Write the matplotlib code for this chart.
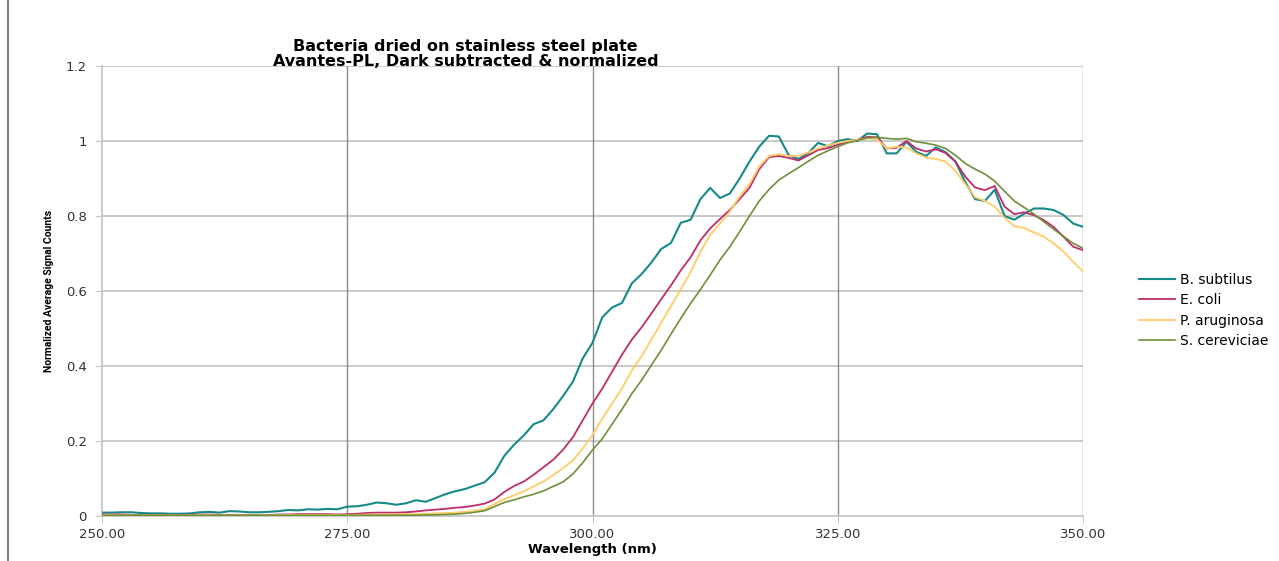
#! usr/bin/env python3

#	import other modules
import numpy as np
import matplotlib
matplotlib.use("Agg")
import matplotlib.pyplot as plt
from matplotlib.lines import Line2D

#	wavelength grid, 1 nm steps
wavelength = list(range(250, 351))

b_subtilus = [
    0.009, 0.009, 0.010, 0.010, 0.008, 0.007, 0.007, 0.006, 0.006, 0.007,
    0.010, 0.011, 0.009, 0.013, 0.012, 0.010, 0.010, 0.011, 0.013, 0.016,
    0.015, 0.018, 0.017, 0.019, 0.018, 0.025, 0.026, 0.030, 0.036, 0.034,
    0.030, 0.034, 0.042, 0.038, 0.048, 0.058, 0.066, 0.072, 0.081, 0.090,
    0.115, 0.160, 0.190, 0.215, 0.245, 0.255, 0.285, 0.320, 0.358, 0.420,
    0.462, 0.530, 0.556, 0.568, 0.620, 0.645, 0.676, 0.712, 0.728, 0.782,
    0.790, 0.845, 0.875, 0.848, 0.860, 0.900, 0.945, 0.985, 1.014, 1.012,
    0.962, 0.952, 0.968, 0.995, 0.986, 1.000, 1.005, 1.000, 1.020, 1.018,
    0.967, 0.967, 0.998, 0.971, 0.960, 0.983, 0.970, 0.945, 0.890, 0.845,
    0.840, 0.870, 0.800, 0.790, 0.806, 0.820, 0.820, 0.816, 0.803, 0.780,
    0.771]

e_coli = [
    0.004, 0.004, 0.004, 0.003, 0.003, 0.003, 0.003, 0.003, 0.003, 0.003,
    0.004, 0.004, 0.003, 0.003, 0.003, 0.003, 0.003, 0.003, 0.004, 0.004,
    0.005, 0.005, 0.005, 0.005, 0.004, 0.005, 0.006, 0.008, 0.009, 0.009,
    0.009, 0.010, 0.012, 0.015, 0.017, 0.019, 0.022, 0.024, 0.028, 0.033,
    0.044, 0.064, 0.080, 0.092, 0.110, 0.130, 0.150, 0.177, 0.210, 0.255,
    0.300, 0.340, 0.385, 0.430, 0.470, 0.503, 0.540, 0.578, 0.615, 0.655,
    0.690, 0.735, 0.767, 0.792, 0.816, 0.845, 0.875, 0.925, 0.957, 0.960,
    0.955, 0.948, 0.962, 0.976, 0.981, 0.990, 0.998, 1.003, 1.011, 1.010,
    0.980, 0.982, 1.000, 0.980, 0.972, 0.978, 0.968, 0.945, 0.905, 0.876,
    0.869, 0.880, 0.825, 0.805, 0.810, 0.802, 0.789, 0.771, 0.745, 0.718,
    0.709]

p_aruginosa = [
    0.003, 0.003, 0.002, 0.002, 0.002, 0.002, 0.002, 0.002, 0.002, 0.002,
    0.003, 0.003, 0.002, 0.002, 0.002, 0.002, 0.002, 0.002, 0.003, 0.003,
    0.003, 0.003, 0.003, 0.003, 0.003, 0.003, 0.003, 0.004, 0.004, 0.004,
    0.004, 0.005, 0.005, 0.006, 0.007, 0.008, 0.009, 0.011, 0.014, 0.018,
    0.032, 0.045, 0.055, 0.066, 0.079, 0.092, 0.109, 0.128, 0.148, 0.180,
    0.216, 0.260, 0.300, 0.340, 0.388, 0.426, 0.470, 0.515, 0.560, 0.605,
    0.650, 0.705, 0.749, 0.780, 0.812, 0.852, 0.885, 0.932, 0.960, 0.965,
    0.960, 0.960, 0.970, 0.980, 0.988, 0.995, 1.000, 1.003, 1.007, 1.005,
    0.980, 0.985, 0.983, 0.967, 0.956, 0.952, 0.945, 0.920, 0.885, 0.850,
    0.840, 0.825, 0.795, 0.773, 0.768, 0.756, 0.745, 0.727, 0.705, 0.678,
    0.652]

s_cereviciae = [
    0.002, 0.002, 0.002, 0.002, 0.002, 0.002, 0.002, 0.002, 0.002, 0.002,
    0.002, 0.002, 0.002, 0.002, 0.002, 0.002, 0.002, 0.002, 0.002, 0.002,
    0.002, 0.002, 0.002, 0.002, 0.002, 0.002, 0.002, 0.002, 0.002, 0.002,
    0.002, 0.002, 0.002, 0.003, 0.003, 0.004, 0.005, 0.007, 0.010, 0.014,
    0.025, 0.036, 0.043, 0.051, 0.058, 0.067, 0.079, 0.091, 0.112, 0.142,
    0.176, 0.206, 0.245, 0.284, 0.326, 0.362, 0.402, 0.442, 0.485, 0.527,
    0.567, 0.604, 0.643, 0.683, 0.718, 0.758, 0.800, 0.840, 0.871, 0.896,
    0.913, 0.929, 0.946, 0.962, 0.974, 0.985, 0.995, 1.001, 1.008, 1.010,
    1.007, 1.005, 1.007, 0.998, 0.994, 0.989, 0.980, 0.962, 0.940, 0.925,
    0.912, 0.893, 0.866, 0.840, 0.823, 0.805, 0.785, 0.765, 0.746, 0.727,
    0.714]

series_names = ["B. subtilus", "E. coli", "P. aruginosa", "S. cereviciae"]
series_colors = ["#17898B", "#BE2D69", "#FFCC66", "#6F8F3A"]
series_widths = [1.5, 1.3, 1.3, 1.2]
x_ticks = [250, 275, 300, 325, 350]
y_ticks = [0, 0.2, 0.4, 0.6, 0.8, 1, 1.2]

fig = plt.figure(figsize=(12.79, 5.61), dpi=100)
ax = fig.add_axes([102 / 1279, 45 / 561, 981 / 1279, 450 / 561])

for vals, name, col, w in zip([b_subtilus, e_coli, p_aruginosa, s_cereviciae], series_names, series_colors, series_widths):
    ax.plot(wavelength, vals, color=col, lw=w, label=name, zorder=3)

ax.set_xlim(250, 350)
ax.set_ylim(0, 1.2)
ax.set_xticks(x_ticks)
ax.set_xticklabels(["{:.2f}".format(t) for t in x_ticks])
ax.set_yticks(y_ticks)
ax.set_yticklabels(["{:g}".format(t) for t in y_ticks])

#	excel style gridlines: light horizontal, darker vertical
for yv in y_ticks[1:]:
    ax.axhline(yv, color="#C6C6C6", lw=1.3, zorder=1)
for xv in x_ticks[1:]:
    ax.axvline(xv, color="#8C8C8C", lw=1.0, zorder=1)

for side in ["top", "right"]:
    ax.spines[side].set_visible(False)
ax.spines["left"].set_color("#C6C6C6")
ax.spines["bottom"].set_color("#C6C6C6")
ax.spines["left"].set_linewidth(1.3)
ax.spines["bottom"].set_linewidth(1.3)
ax.tick_params(axis="both", direction="out", length=5, color="#C6C6C6", labelsize=9.5, labelcolor="#333333")
ax.tick_params(axis="x", pad=4)
ax.tick_params(axis="y", pad=6)

ax.set_xlabel("Wavelength (nm)", fontsize=9.5, fontweight="bold", labelpad=1)
ax.set_ylabel("Normalized Average Signal Counts", fontsize=7.5, fontweight="bold",
              family=["Roboto", "DejaVu Sans"], labelpad=8)

fig.text(465 / 1279, 1 - 46 / 561, "Bacteria dried on stainless steel plate", ha="center", va="center",
         fontsize=11.5, fontweight="bold")
fig.text(466 / 1279, 1 - 62 / 561, "Avantes-PL, Dark subtracted & normalized", ha="center", va="center",
         fontsize=11.5, fontweight="bold")

fig.legend(loc="center left", bbox_to_anchor=(1139 / 1279, 1 - 310.5 / 561), frameon=False,
           fontsize=10, handlelength=2.6, handletextpad=0.36, labelspacing=0.47,
           borderpad=0, borderaxespad=0)

#	left edge of the chart frame
fig.add_artist(Line2D([8 / 1279, 8 / 1279], [0, 1], color="#808080", lw=1.5, transform=fig.transFigure))

fig.savefig("out.png", dpi=100)
